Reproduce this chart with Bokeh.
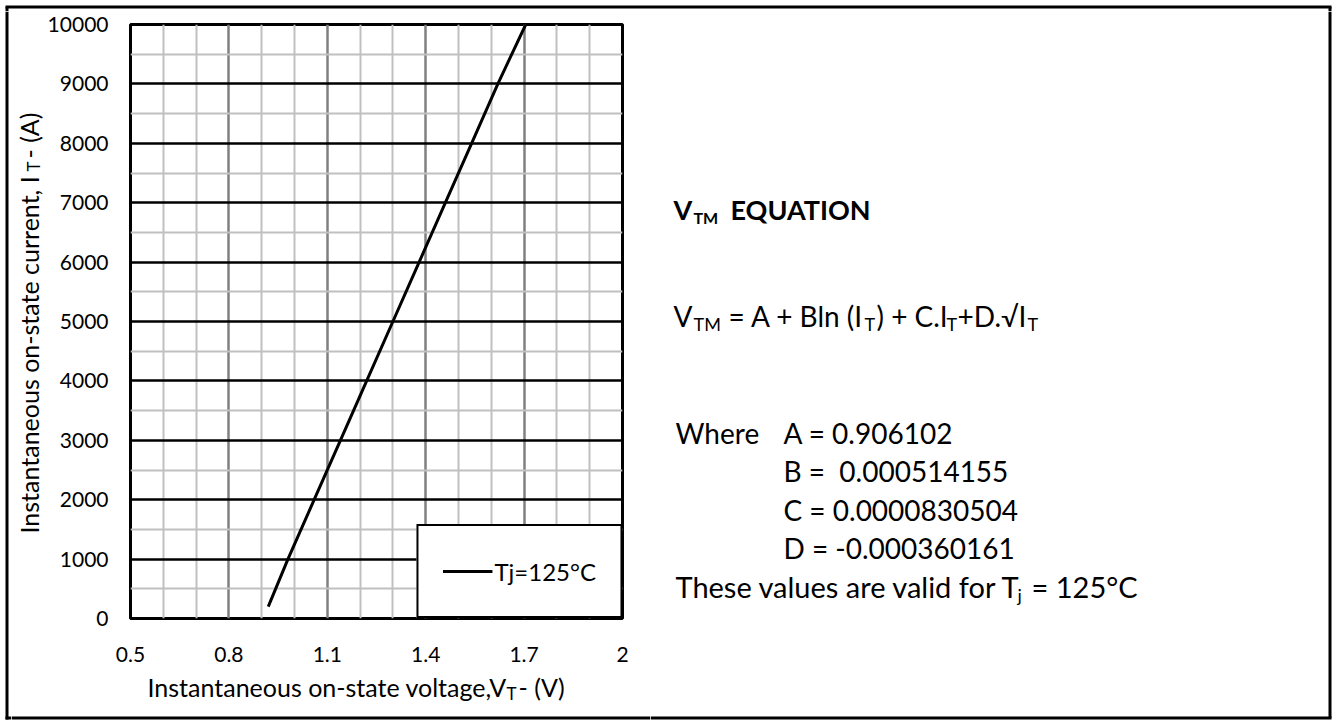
import math
from bokeh.plotting import figure
from bokeh.models import Range1d, FixedTicker, Label
from bokeh.layouts import row, column
from bokeh.embed import file_html
from bokeh.resources import INLINE

# ---------------- data ----------------
voltage = [0.92, 0.98, 1.06, 1.14, 1.22, 1.30, 1.38, 1.46, 1.54, 1.62, 1.705]
current = [200, 1000, 2000, 3000, 4000, 5000, 6000, 7000, 8000, 9000, 10000]
series_name = "Tj=125°C"

x_ticks = [0.5, 0.8, 1.1, 1.4, 1.7, 2.0]
x_tick_labels = ["0.5", "0.8", "1.1", "1.4", "1.7", "2"]
x_minor_ticks = [0.6, 0.7, 0.9, 1.0, 1.2, 1.3, 1.5, 1.6, 1.8, 1.9]
y_ticks = [0, 1000, 2000, 3000, 4000, 5000, 6000, 7000, 8000, 9000, 10000]
y_minor_ticks = [500, 1500, 2500, 3500, 4500, 5500, 6500, 7500, 8500, 9500]

coef_lines = ["A = 0.906102", "B =\u00a0 0.000514155", "C = 0.0000830504", "D = -0.000360161"]

FONT = "Lato"

# page geometry (page pixels, the Bokeh page has no body margin)
PW, PH = 1333, 721
TOP_H = 11                 # top band (holds the outer border's top edge)
LS_R = 11                  # left border strip
YT_R = 44                  # right edge of y-title strip
CH_R = 650                 # right edge of chart block
CH_B = 671                 # bottom of chart figure
FRAME_L, FRAME_T, FRAME_R, FRAME_B = 129, 24, 622, 618
BORD_L, BORD_T, BORD_R, BORD_B = 6.5, 5.5, 1329.5, 717.5   # outer border centre lines
BW = 3
BASE_SHIFT = 0.387          # label anchor sits this many em above the glyph baseline


def blank(x0, x1, y0, y1, bt=0, bb=0, fy0=None, fy1=None):
    fy0 = y0 if fy0 is None else fy0
    fy1 = y1 if fy1 is None else fy1
    f = figure(width=x1 - x0, height=y1 - y0, x_range=Range1d(x0, x1), y_range=Range1d(fy1, fy0),
               x_axis_type=None, y_axis_type=None, output_backend="svg", toolbar_location=None,
               title=None, min_border=0, min_border_left=0, min_border_right=0,
               min_border_top=bt, min_border_bottom=bb)
    f.outline_line_color = None
    f.background_fill_color = "white"
    f.border_fill_color = "white"
    return f


def border(f, xs, ys):
    f.line(xs, ys, line_color="black", line_width=BW)


def txt(f, s, X, Y, size, bold=False, rotated=False):
    """X, Y: start of the text on its baseline, in page pixels."""
    if rotated:
        ax, ay, ang = X - BASE_SHIFT * size, Y, math.pi / 2
    else:
        ax, ay, ang = X, Y - BASE_SHIFT * size, 0.0
    f.add_layout(Label(x=ax, y=ay, text=s, text_font=FONT, text_font_size=f"{size}px",
                       text_font_style="bold" if bold else "normal",
                       text_color="black", text_align="left",
                       text_baseline="alphabetic", angle=ang))


# ---------------- chart ----------------
p = figure(width=CH_R - YT_R, height=CH_B - TOP_H, x_range=Range1d(0.5, 2.0), y_range=Range1d(0, 10000),
           output_backend="svg", toolbar_location=None, title=None,
           min_border_left=FRAME_L - YT_R, min_border_right=CH_R - FRAME_R,
           min_border_top=FRAME_T - TOP_H, min_border_bottom=CH_B - FRAME_B)
p.background_fill_color = "white"
p.border_fill_color = "white"
p.outline_line_color = "black"
p.outline_line_width = 3

p.xaxis.ticker = FixedTicker(ticks=x_ticks, minor_ticks=x_minor_ticks)
p.yaxis.ticker = FixedTicker(ticks=y_ticks, minor_ticks=y_minor_ticks)
p.xaxis.major_label_overrides = {t: s for t, s in zip(x_ticks, x_tick_labels)}

for ax in (p.xaxis[0], p.yaxis[0]):
    ax.axis_line_color = None
    ax.major_tick_line_color = None
    ax.minor_tick_line_color = None
    ax.major_tick_in = 0
    ax.major_tick_out = 0
    ax.minor_tick_in = 0
    ax.minor_tick_out = 0
    ax.major_label_text_font = FONT
    ax.major_label_text_font_size = "21px"
    ax.major_label_text_color = "black"
p.xaxis.major_label_standoff = 28
p.yaxis.major_label_standoff = 22

p.xgrid.grid_line_color = "#808080"
p.xgrid.grid_line_width = 2.5
p.xgrid.minor_grid_line_color = "#c0c0c0"
p.xgrid.minor_grid_line_width = 2
p.ygrid.grid_line_color = "black"
p.ygrid.grid_line_width = 2.5
p.ygrid.minor_grid_line_color = "#c0c0c0"
p.ygrid.minor_grid_line_width = 2

p.line(voltage, current, line_color="black", line_width=3, legend_label=series_name)

lg = p.legend[0]
lg.location = "bottom_right"
lg.margin = 0
lg.padding = 24
lg.spacing = 0
lg.border_line_color = "black"
lg.border_line_alpha = 1
lg.border_line_width = 2
lg.background_fill_color = "white"
lg.background_fill_alpha = 1
lg.glyph_width = 50
lg.glyph_height = 42
lg.label_height = 42
lg.label_standoff = 2
lg.label_text_font = FONT
lg.label_text_font_size = "24px"
lg.label_text_color = "black"

# ---------------- top band ----------------
top = blank(0, PW, 0, TOP_H)
border(top, [BORD_L - BW / 2, BORD_R + BW / 2], [BORD_T, BORD_T])
border(top, [BORD_L, BORD_L], [BORD_T, TOP_H])
border(top, [BORD_R, BORD_R], [BORD_T, TOP_H])

# ---------------- left border strip ----------------
ls = blank(0, LS_R, TOP_H, PH)
border(ls, [BORD_L, BORD_L], [TOP_H, BORD_B + BW / 2])
border(ls, [BORD_L - BW / 2, LS_R], [BORD_B, BORD_B])

# ---------------- y-axis title strip (frame aligned with the chart frame) ----------------
yt = blank(LS_R, YT_R, TOP_H, CH_B, bt=FRAME_T - TOP_H, bb=CH_B - FRAME_B, fy0=FRAME_T, fy1=FRAME_B)
txt(yt, "Instantaneous on-state current, I", 38, 533, 25, rotated=True)
txt(yt, "T", 40, 171, 17, rotated=True)
txt(yt, "- (A)", 38, 158, 25, rotated=True)

# ---------------- x-axis title strip ----------------
xt = blank(LS_R, CH_R, CH_B, PH)
border(xt, [LS_R, CH_R], [BORD_B, BORD_B])
txt(xt, "Instantaneous on-state voltage,V", 147, 696, 25)
txt(xt, "T", 506, 700, 17)
txt(xt, "- (V)", 518, 696, 25)

# ---------------- equation panel ----------------
rt = blank(CH_R, PW, TOP_H, PH)
border(rt, [CH_R, BORD_R + BW / 2], [BORD_B, BORD_B])
border(rt, [BORD_R, BORD_R], [TOP_H, BORD_B])

txt(rt, "V", 673, 219, 27, bold=True)
txt(rt, "TM", 693, 223, 16, bold=True)
txt(rt, "EQUATION", 730, 219, 27, bold=True)

txt(rt, "V", 673, 326, 28)
txt(rt, "TM", 693, 330, 18)
txt(rt, "= A + Bln (I", 728, 326, 28)
txt(rt, "T", 864, 330, 18)
txt(rt, ") + C.I", 876, 326, 28)
txt(rt, "T", 946, 330, 18)
txt(rt, "+D.\u221aI", 957, 326, 28)
txt(rt, "T", 1027, 330, 18)

txt(rt, "Where", 675, 443, 28)
for i, s in enumerate(coef_lines):
    txt(rt, s, 783, 443 + i * 38.5, 28)
txt(rt, "These values are valid for T", 675, 597, 29)
txt(rt, "j", 1017, 601, 18)
txt(rt, "= 125°C", 1031, 597, 29)

left_block = column(row(yt, p, spacing=0), xt, spacing=0)
body = row(ls, left_block, rt, spacing=0)
root = column(top, body, spacing=0)

open("out.html", "w").write(file_html(root, INLINE))
